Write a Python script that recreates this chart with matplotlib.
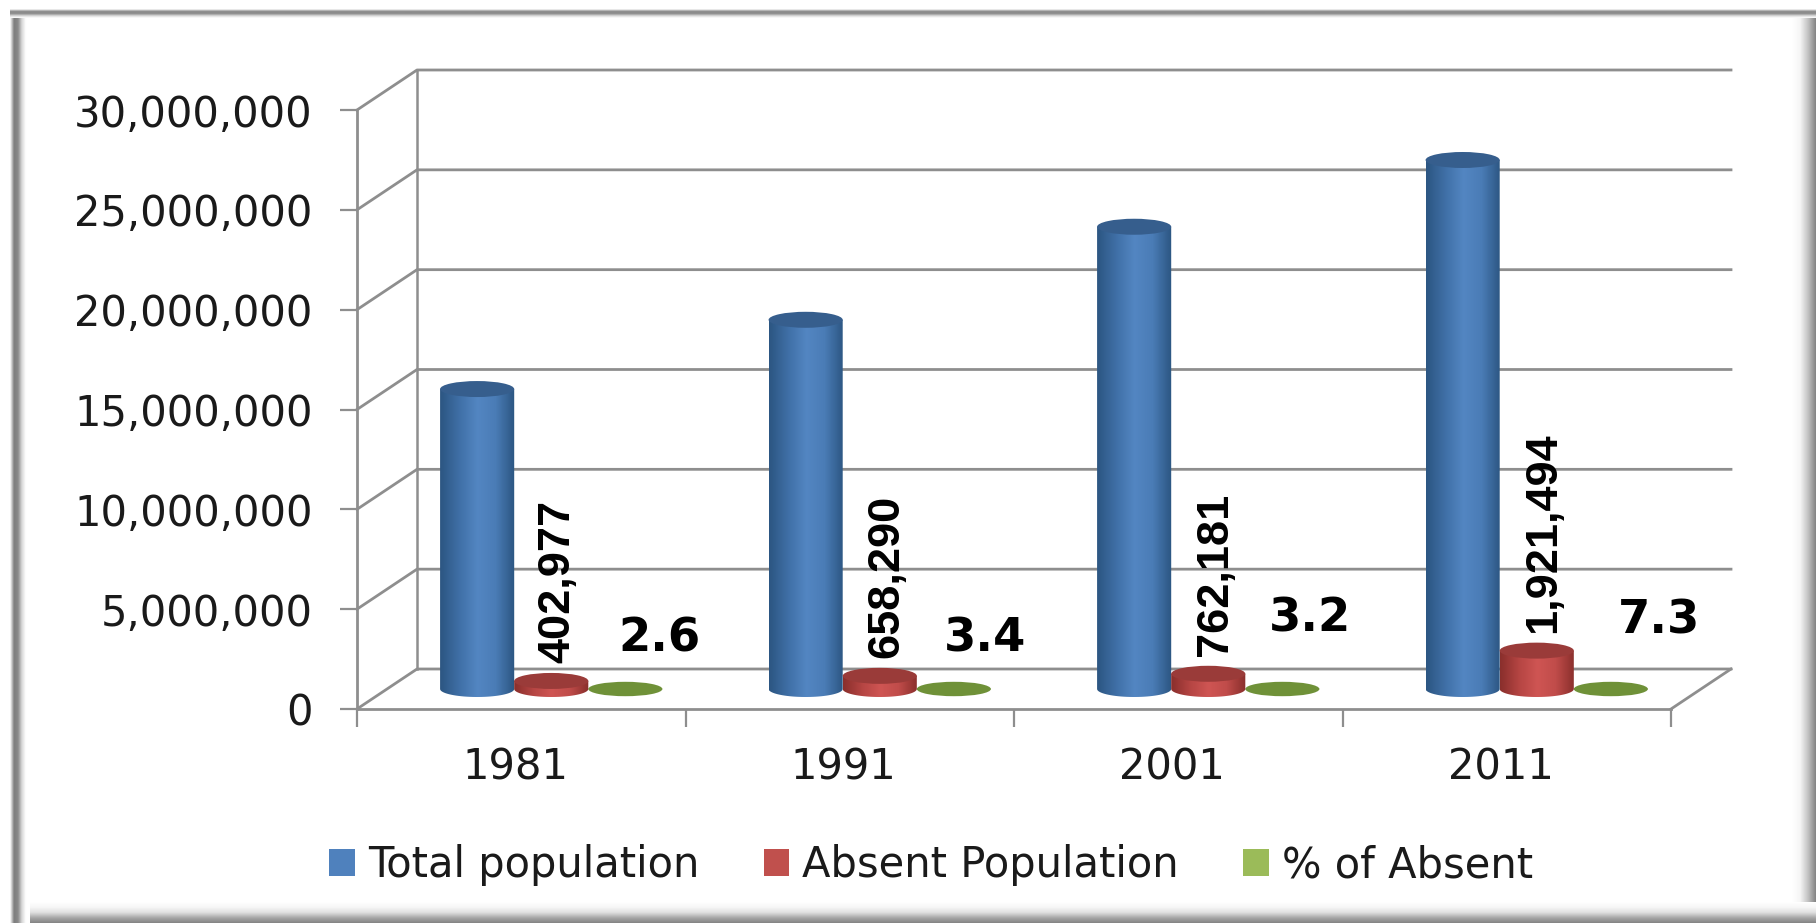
import numpy as np
import matplotlib
matplotlib.use("Agg")
import matplotlib.pyplot as plt
from matplotlib.colors import LinearSegmentedColormap
from matplotlib.patches import Ellipse, PathPatch, Patch
from matplotlib.path import Path
from matplotlib.ticker import FuncFormatter
from matplotlib.transforms import ScaledTranslation

years = ["1981", "1991", "2001", "2011"]
total_population = [15022839, 18491097, 23151423, 26494504]
absent_population = [402977, 658290, 762181, 1921494]
percent_absent = [2.6, 3.4, 3.2, 7.3]
series_names = ["Total population", "Absent Population", "% of Absent"]
y_ticks = [0, 5000000, 10000000, 15000000, 20000000, 25000000, 30000000]

W, H = 1816, 923
L, R, T, B = 357, 1671, 110, 709
GRID = "#8e8e8e"
BLUE = ["#2c5682", "#3f6fa6", "#5386c2", "#4a7cb6", "#2c5682"]
RED = ["#8a2f2c", "#b54543", "#cf5553", "#c04c4a", "#8a2f2c"]
GREEN_CAP = "#6f9138"

fig = plt.figure(figsize=(W / 100, H / 100), dpi=100, facecolor="white")

# frame with soft bevel, as gradient bands
bg = fig.add_axes([0, 0, 1, 1], zorder=0)
bg.axis("off")


def band(extent, stops, horizontal):
    cmap = LinearSegmentedColormap.from_list("b", stops)
    g = np.linspace(0, 1, 64)
    g = g.reshape(1, -1) if horizontal else g.reshape(-1, 1)
    bg.imshow(g, extent=extent, cmap=cmap, aspect="auto", origin="upper", zorder=1)


band((1792, 1816, 923, 12), ["#ffffff", "#f6f6f6", "#c4c4c4", "#848484"], True)
band((18, 1816, 923, 902), ["#ffffff", "#f6f6f6", "#e0e0e0", "#a8a8a8", "#848484"], False)
band((10, 30, 923, 11), ["#ffffff", "#7d7d7d", "#8a8a8a", "#d8d8d8", "#ffffff", "#ffffff"], True)
band((10, 1816, 18, 9), ["#ffffff", "#8c8c8c", "#8c8c8c", "#d8d8d8", "#ffffff"], False)
bg.set_xlim(0, W)
bg.set_ylim(H, 0)

ax = fig.add_axes([L / W, 1 - B / H, (R - L) / W, (B - T) / H], zorder=1)
ax.patch.set_alpha(0)
ax.set_xlim(0, len(years))
ax.set_ylim(0, 30000000)

# oblique depth of the 3-D box, expressed in data units
px_x = len(years) / (R - L)
px_y = 30000000 / (B - T)
DX, DY = 60 * px_x, 40 * px_y

for v in y_ticks:
    ax.plot([0, DX, len(years) + DX], [v, v + DY, v + DY], color=GRID, lw=2.0, clip_on=False, zorder=1)
ax.plot([DX, DX], [DY, 30000000 + DY], color=GRID, lw=1.8, clip_on=False, zorder=1)
ax.plot([len(years), len(years) + DX], [0, DY], color=GRID, lw=2.0, clip_on=False, zorder=1)

bar_w = 0.2256
cap_h = 16 * px_y


def cylinder(xc, height, colors, z):
    base = DY / 2
    x0 = xc + DX / 2 - bar_w / 2
    x1 = x0 + bar_w
    t = np.linspace(np.pi, 2 * np.pi, 40)
    vx = xc + DX / 2 + bar_w / 2 * np.cos(t)
    vy = base + cap_h / 2 * np.sin(t)
    verts = np.column_stack([np.r_[vx, x1, x0], np.r_[vy, base + height, base + height]])
    verts = np.vstack([verts, verts[0]])
    clip = PathPatch(Path(verts, closed=True), transform=ax.transData, fc="none", ec="none")
    ax.add_patch(clip)
    cmap = LinearSegmentedColormap.from_list("c", colors)
    im = ax.imshow(np.linspace(0, 1, 64).reshape(1, -1), extent=(x0, x1, base - cap_h, base + height),
                   cmap=cmap, aspect="auto", zorder=z, clip_on=True)
    im.set_clip_path(clip)
    cap_col = tuple(0.85 * c for c in matplotlib.colors.to_rgb(colors[1]))
    ax.add_patch(Ellipse((xc + DX / 2, base + height), bar_w, cap_h, fc=cap_col, ec="none",
                         zorder=z + 0.1, clip_on=False))


for i, year in enumerate(years):
    xc = i + 0.5
    cylinder(xc - bar_w, total_population[i], BLUE, 3)
    cylinder(xc, absent_population[i], RED, 4)
    # the percentage is far too small on this axis: only a flat disc shows
    ax.add_patch(Ellipse((xc + bar_w + DX / 2, DY / 2 + percent_absent[i]), bar_w, cap_h * 0.9,
                         fc=GREEN_CAP, ec="none", zorder=3, clip_on=False))

ax.set_xlim(0, len(years))
ax.set_ylim(0, 30000000)

# labels: rotated absent counts, percentages placed by hand in the source chart
pct_offset_px = [(34, 50), (31, 50), (28, 70), (48, 68)]
for i in range(len(years)):
    xc = i + 0.5 + DX / 2
    top = DY / 2 + absent_population[i]
    ax.annotate(f"{absent_population[i]:,}", xy=(xc, top), xytext=(7 * 0.72, 18 * 0.72),
                textcoords="offset points", rotation=90, ha="center", va="bottom",
                family="Liberation Sans", weight="bold", fontsize=32.5, color="black",
                annotation_clip=False, zorder=6)
    ox, oy = pct_offset_px[i]
    ax.annotate(f"{percent_absent[i]}", xy=(xc + bar_w, DY / 2), xytext=(ox * 0.72, oy * 0.72),
                textcoords="offset points", ha="center", va="center",
                family="DejaVu Sans", weight="bold", fontsize=33.5, color="black",
                annotation_clip=False, zorder=6)

# axes
for s in ("top", "right"):
    ax.spines[s].set_visible(False)
for s in ("left", "bottom"):
    ax.spines[s].set_color(GRID)
    ax.spines[s].set_linewidth(2.0)
    ax.spines[s].set_zorder(5)
ax.set_yticks(y_ticks)
ax.yaxis.set_major_formatter(FuncFormatter(lambda v, _: f"{int(v):,}"))
ax.tick_params(axis="y", length=12, width=1.6, color=GRID, pad=20, labelsize=30, labelcolor="#1a1a1a")
ax.set_xticks(range(len(years) + 1))
ax.set_xticklabels([])
ax.set_xticks([i + 0.5 for i in range(len(years))], minor=True)
ax.set_xticklabels(years, minor=True, family="DejaVu Sans")
ax.tick_params(axis="x", which="major", length=13, width=1.6, color=GRID)
ax.tick_params(axis="x", which="minor", length=0, pad=27, labelsize=30, labelcolor="#1a1a1a")
shift = ScaledTranslation(-6 / 100, 0, fig.dpi_scale_trans)
for lab in ax.get_xticklabels(minor=True):
    lab.set_transform(lab.get_transform() + shift)

handles = [Patch(fc=c, ec="none") for c in ("#4f81bd", "#c0504d", "#9bbb59")]
fig.legend(handles, series_names, loc="center", bbox_to_anchor=(931 / W, 1 - 865 / H), ncol=3, frameon=False,
           fontsize=30, handlelength=0.62, handleheight=0.62, handletextpad=0.3, columnspacing=1.55,
           labelcolor="#1a1a1a")

fig.savefig("out.png", dpi=100)
